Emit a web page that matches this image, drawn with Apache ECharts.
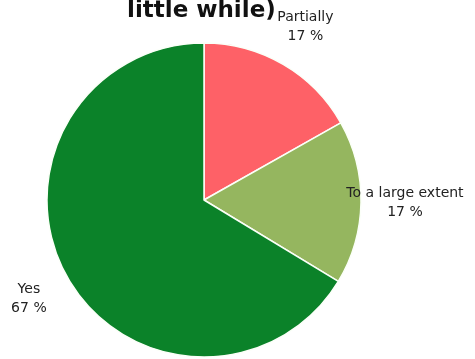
<!DOCTYPE html>
<html>
<head>
<meta charset="utf-8">
<script src="https://cdn.jsdelivr.net/npm/echarts@6/dist/echarts.min.js"></script>
<style>
  html, body { margin: 0; padding: 0; background: #fff; }
  #chart { width: 475px; height: 359px; }
</style>
</head>
<body>
<div id="chart"></div>
<script>
// Answers and their shares, in percent
const categories = ['Partially', 'To a large extent', 'Yes'];
const shares = [17, 17, 67];
const sliceColors = ['#fe6167', '#95b65f', '#0b8229'];

const pieData = categories.map((name, i) => ({
  name: name,
  value: shares[i],
  itemStyle: { color: sliceColors[i] }
}));

const center = [204, 200];
const chart = echarts.init(document.getElementById('chart'));
chart.setOption({
  animation: false,
  title: {
    text: 'little while)',
    left: 122,
    top: -5,
    textStyle: {
      fontFamily: 'DejaVu Sans',
      fontWeight: 'bold',
      fontSize: 23,
      color: '#111'
    }
  },
  series: [
    {
      type: 'pie',
      center: center,
      radius: [0, 157],
      startAngle: 90,
      clockwise: true,
      silent: true,
      data: pieData,
      itemStyle: { borderColor: '#fbfff8', borderWidth: 1.5 },
      label: { show: false },
      labelLine: { show: false }
    },
    {
      // transparent ring that carries the category labels outside the pie
      type: 'pie',
      center: center,
      radius: [194, 202],
      startAngle: 90,
      clockwise: true,
      silent: true,
      data: categories.map((name, i) => ({ name: name, value: shares[i] })),
      itemStyle: { color: 'rgba(0,0,0,0)', borderWidth: 0 },
      label: {
        show: true,
        position: 'inside',
        formatter: p => p.name + '\n' + p.value + ' %',
        fontFamily: 'DejaVu Sans',
        fontSize: 14,
        lineHeight: 19,
        color: '#222',
        align: 'center'
      },
      labelLine: { show: false }
    }
  ]
});
</script>
</body>
</html>
